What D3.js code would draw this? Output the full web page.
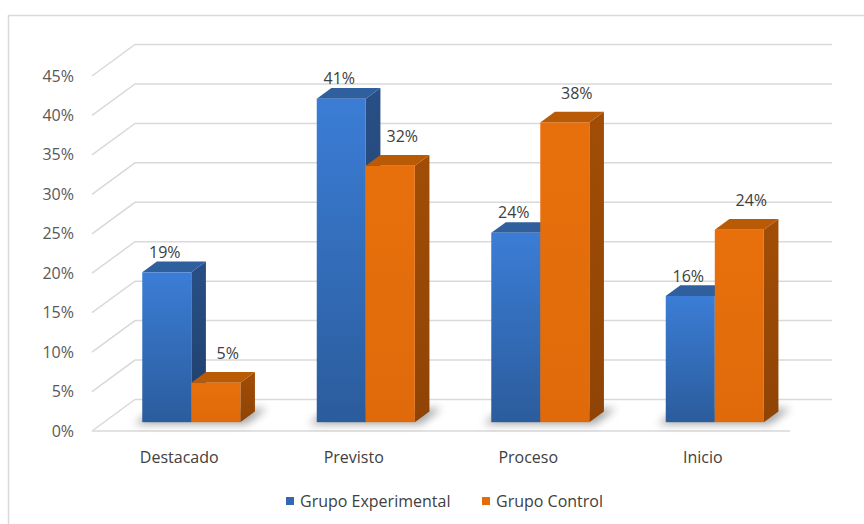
<!DOCTYPE html>
<html><head><meta charset="utf-8">
<script src="https://cdn.jsdelivr.net/npm/d3@7"></script>
<style>
html,body{margin:0;padding:0;background:#fff;}
svg{display:block;font-family:"Open Sans","Noto Sans",sans-serif;}
</style></head>
<body><svg id="chart" width="864" height="524"></svg>
<script>
const categories = ["Destacado","Previsto","Proceso","Inicio"];
const seriesNames = ["Grupo Experimental","Grupo Control"];
const experimental = [0.19,0.41,0.24,0.16];
const control = [0.05,0.325,0.38,0.244];
const experimentalLabels = ["19%","41%","24%","16%"];
const controlLabels = ["5%","32%","38%","24%"];
const yTicks = [0,0.05,0.10,0.15,0.20,0.25,0.30,0.35,0.40,0.45];

const svg = d3.select("#chart");
const W = 864, H = 524;
const FS = 16;

svg.append("rect").attr("x",8.5).attr("y",15.5).attr("width",W).attr("height",H)
  .attr("fill","#fff").attr("stroke","#d9d9d9").attr("stroke-width",1.5);

const DX = 43, DY = -31.5;
const zF = 0.28, zB = 0.62;

const x = d3.scaleBand().domain(categories).range([92,790]);
const y = d3.scaleLinear().domain([0,0.45]).range([431,76]);

const defs = svg.append("defs");
const blur = defs.append("filter").attr("id","sh").attr("x","-50%").attr("y","-50%").attr("width","200%").attr("height","200%");
blur.append("feGaussianBlur").attr("stdDeviation",4);

function grad(id, c1, c2){
  const g = defs.append("linearGradient").attr("id",id).attr("x1",0).attr("y1",0).attr("x2",0).attr("y2",1);
  g.append("stop").attr("offset","0%").attr("stop-color",c1);
  g.append("stop").attr("offset","100%").attr("stop-color",c2);
}
grad("bFront","#3b7dd6","#2b5c9c");
grad("bSide","#284f86","#1f3f6b");
grad("oFront","#e8700c","#e06a0a");
grad("oSide","#a14d06","#8f4405");

const colors = [
  {front:"url(#bFront)", side:"url(#bSide)", top:"#2f5f9c", legend:"#3366b3"},
  {front:"url(#oFront)", side:"url(#oSide)", top:"#b95a07", legend:"#e36c09"}
];

const grid = svg.append("g").attr("stroke","#d9d9d9").attr("stroke-width",1.5).attr("fill","none");
yTicks.forEach(t=>{
  const yf = y(t);
  grid.append("path").attr("d",`M92,${yf}L${92+DX},${yf+DY}L832,${yf+DY}`);
});
grid.append("line").attr("x1",92).attr("x2",790).attr("y1",y(0)).attr("y2",y(0));

svg.append("g").selectAll("text").data(yTicks).join("text")
  .attr("x",74).attr("y",d=>y(d)).attr("dy","0.35em").attr("text-anchor","end")
  .attr("font-size",FS).attr("fill","#595959").text(d=>d3.format(".0%")(d));

svg.append("g").selectAll("text").data(categories).join("text")
  .attr("x",d=>x(d)+x.bandwidth()/2).attr("y",457).attr("dy","0.35em").attr("text-anchor","middle")
  .attr("font-size",FS).attr("fill","#404040").text(d=>d);

const bw = x.bandwidth()*0.281;
const series = [experimental, control];
const labels = [experimentalLabels, controlLabels];

const shG = svg.append("g");
categories.forEach((c,i)=>{
  const x0 = x(c)+x.bandwidth()/2 - bw;
  const x1 = x0 + 2*bw;
  const yb = y(0);
  const pts = [[x0-8+DX*zF, yb+DY*zF+2],[x1+DX*zF+6, yb+DY*zF+2],[x1+DX*(zB+0.1)+8, yb+DY*(zB+0.1)],[x0+DX*(zB)-6, yb+DY*zB]];
  shG.append("polygon").attr("points",pts.map(p=>p.join(",")).join(" "))
    .attr("fill","#000").attr("opacity",0.35).attr("filter","url(#sh)");
});

const barsG = svg.append("g");
categories.forEach((c,i)=>{
  series.forEach((s,k)=>{
    const v = s[i];
    const xl = x(c)+x.bandwidth()/2 - bw + k*bw;
    const xr = xl + bw;
    const yt = y(v), yb = y(0);
    const fx = DX*zF, fy = DY*zF, bx = DX*zB, by = DY*zB;
    const g = barsG.append("g");
    g.append("polygon").attr("points",[[xr+fx,yt+fy],[xr+bx,yt+by],[xr+bx,yb+by],[xr+fx,yb+fy]].map(p=>p.join(",")).join(" "))
      .attr("fill",colors[k].side);
    g.append("polygon").attr("points",[[xl+fx,yt+fy],[xl+bx,yt+by],[xr+bx,yt+by],[xr+fx,yt+fy]].map(p=>p.join(",")).join(" "))
      .attr("fill",colors[k].top);
    g.append("rect").attr("x",xl+fx).attr("y",yt+fy).attr("width",bw).attr("height",yb-yt)
      .attr("fill",colors[k].front);
    const lx = k===0 ? xl+fx+bw/2-2 : xl+fx+bw/2+12;
    const ly = k===0 ? yt+fy-20 : yt+fy-29;
    svg.append("text").attr("x",lx).attr("y",ly).attr("dy","0.35em").attr("text-anchor","middle")
      .attr("font-size",FS).attr("fill","#404040").text(labels[k][i]);
  });
});

const lg = svg.append("g");
const legendX = [286, 482];
seriesNames.forEach((n,k)=>{
  lg.append("rect").attr("x",legendX[k]).attr("y",497).attr("width",8).attr("height",8)
    .attr("fill",colors[k].legend);
  lg.append("text").attr("x",legendX[k]+14).attr("y",501.5).attr("dy","0.35em")
    .attr("font-size",FS).attr("fill","#404040").text(n);
});
</script></body></html>
